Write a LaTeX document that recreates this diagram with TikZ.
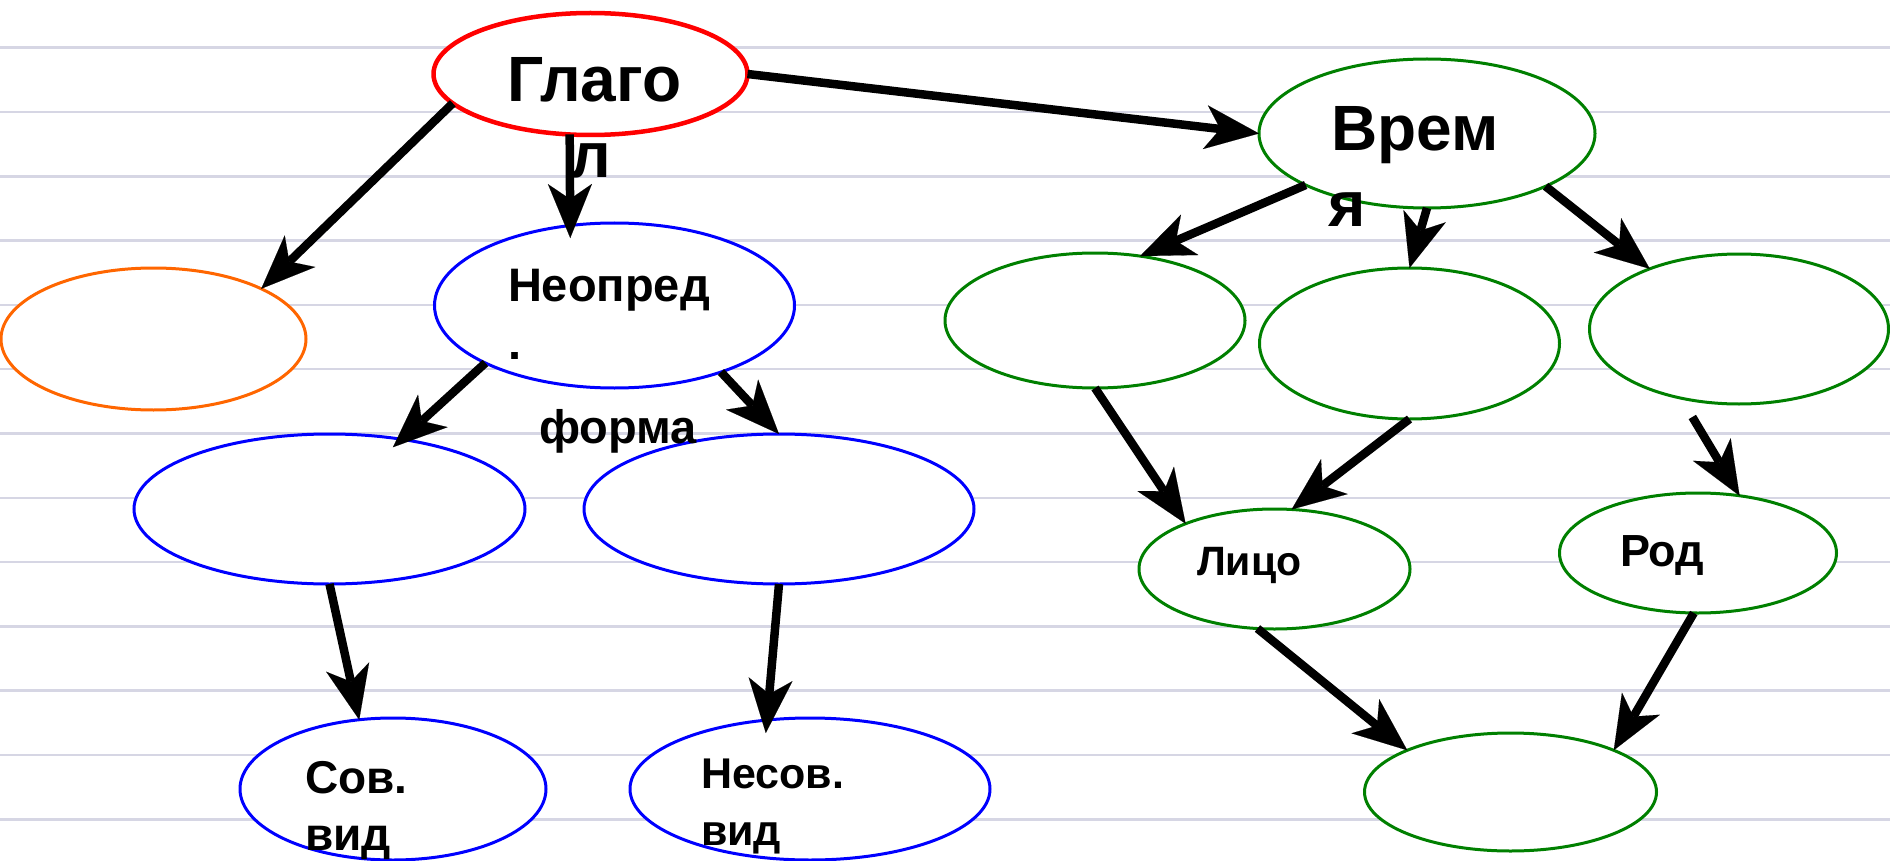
\documentclass[tikz,border=0pt]{standalone}
\usepackage{fontspec}
\setmainfont{Liberation Sans}
\usetikzlibrary{arrows.meta,shapes.geometric}
\definecolor{gridc}{RGB}{214,214,228}
\definecolor{ogreen}{RGB}{0,128,0}
\definecolor{oorange}{RGB}{255,102,0}
\begin{document}
\begin{tikzpicture}[x=1pt,y=-1pt,
  ell/.style={ellipse,fill=white,line width=3pt,inner sep=0pt,outer sep=0pt},
  arr/.style={line width=8.5pt,-{Stealth[length=54pt,width=44pt,inset=15pt,line width=0.1pt]}},
  txt/.style={anchor=base west,inner sep=0pt,outer sep=0pt,font=\bfseries},
  gridline/.style={draw=gridc,line width=2.5pt}]
\useasboundingbox[fill=white] (0,0) rectangle (1890,861);
% ruled lines
\foreach \k in {0,...,12}{
  \draw[gridline] (0,{47.7+64.3*\k}) -- (1890,{47.7+64.3*\k});
}
% ellipses
\node[ell,draw=red,line width=4.5pt,minimum width=314pt,minimum height=122pt] (glagol) at (590.5,74) {};
\node[ell,draw=ogreen,minimum width=336pt,minimum height=149pt] (vrem) at (1427,133.5) {};
\node[ell,draw=oorange,minimum width=305pt,minimum height=142pt] (orange) at (153.5,339) {};
\node[ell,draw=blue,minimum width=360pt,minimum height=165pt] (neopr) at (614.5,305.5) {};
\node[ell,draw=blue,minimum width=391pt,minimum height=150pt] (lm) at (329.5,509) {};
\node[ell,draw=blue,minimum width=390pt,minimum height=150pt] (rm) at (779,509) {};
\node[ell,draw=blue,minimum width=306pt,minimum height=142pt] (sov) at (393,789) {};
\node[ell,draw=blue,minimum width=360pt,minimum height=142pt] (nesov) at (810,789) {};
\node[ell,draw=ogreen,minimum width=300pt,minimum height=135pt] (gl) at (1095,320.5) {};
\node[ell,draw=ogreen,minimum width=300pt,minimum height=151pt] (gm) at (1409.5,343.5) {};
\node[ell,draw=ogreen,minimum width=299pt,minimum height=150pt] (gr) at (1739,329) {};
\node[ell,draw=ogreen,minimum width=271pt,minimum height=120pt] (lico) at (1274.5,569) {};
\node[ell,draw=ogreen,minimum width=277pt,minimum height=120pt] (rod) at (1698,553) {};
\node[ell,draw=ogreen,minimum width=292pt,minimum height=118pt] (bot) at (1510.5,792) {};
% connectors
\draw[arr] (glagol.192.4) -- (orange.25.4);
\draw[arr,shorten >=-12.5pt] (glagol.251.3) -- (neopr.119.1);
\draw[arr] (glagol.east) -- (vrem.west);
\draw[arr] (vrem.203.5) -- (gl.55.3);
\draw[arr] (vrem.south) -- (gm.north);
\draw[arr] (vrem.336.2) -- (gr.146);
\draw[arr,shorten >=-11.8pt] (neopr.204.6) -- (lm.44.4);
\draw[arr] (neopr.328.9) -- (rm.north);
\draw[arr] (lm.south) -- (sov.116);
\draw[arr,shorten >=-13pt] (rm.south) -- (nesov.122.2);
\draw[arr] (gl.south) -- (lico.153.8);
\draw[arr] (gm.south) -- (lico.74.1);
\draw[arr,shorten <=22pt] (gr.230.4) -- (rod.54.9);
\draw[arr] (lico.254.4) -- (bot.158);
\draw[arr] (rod.266.8) -- (bot.22.1);
% texts
\node[txt,font=\bfseries\fontsize{64}{76}\selectfont] (t1) at (507,102) {Глаго};
\node[txt,font=\bfseries\fontsize{64}{76}\selectfont] (t2) at (570,178) {л};
\node[txt,font=\bfseries\fontsize{64}{76}\selectfont] (t3) at (1331,151) {Врем};
\node[txt,font=\bfseries\fontsize{64}{76}\selectfont] (t4) at (1328,227) {я};
\node[txt,font=\bfseries\fontsize{47}{57}\selectfont] (t5) at (508,301.7) {Неопред};
\node[txt,font=\bfseries\fontsize{47}{57}\selectfont] (t6) at (508,359) {.};
\node[txt,font=\bfseries\fontsize{47}{57}\selectfont] (t7) at (539,443) {форма};
\node[txt,font=\bfseries\fontsize{46}{57}\selectfont] (t8) at (305,793) {Сов.};
\node[txt,font=\bfseries\fontsize{46}{57}\selectfont] (t9) at (305,850) {вид};
\node[txt,font=\bfseries\fontsize{43}{57}\selectfont] (t10) at (701,788) {Несов.};
\node[txt,font=\bfseries\fontsize{43}{57}\selectfont] (t11) at (701,845) {вид};
\node[txt,font=\bfseries\fontsize{41}{50}\selectfont] (t12) at (1197,575) {Лицо};
\node[txt,font=\bfseries\fontsize{45}{54}\selectfont] (t13) at (1620,566) {Род};
\end{tikzpicture}
\end{document}
